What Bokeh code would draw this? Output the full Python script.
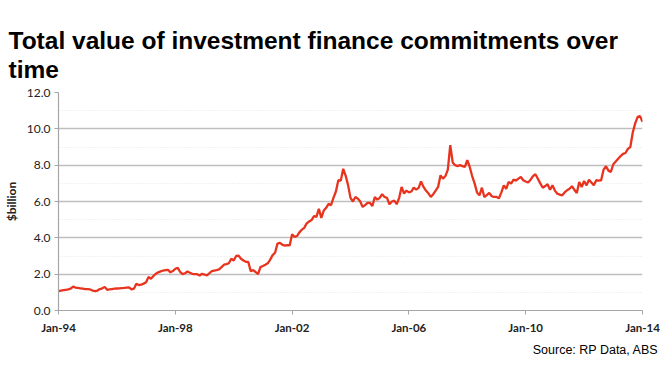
from bokeh.plotting import figure
from bokeh.models import Range1d, FixedTicker, Title, PrintfTickFormatter
from bokeh.embed import file_html
from bokeh.resources import INLINE

title_line1 = "Total value of investment finance commitments over"
title_line2 = "time"
source_text = "Source: RP Data, ABS"
y_label = "$billion"

tick_months = [0, 48, 96, 144, 192, 240]
tick_labels = ["Jan-94", "Jan-98", "Jan-02", "Jan-06", "Jan-10", "Jan-14"]
y_ticks = [0, 2, 4, 6, 8, 10, 12]
y_minor = [1, 3, 5, 7, 9, 11]

# monthly values ($billion), Jan-94 .. Jan-14
v1994 = [1.07, 1.10, 1.12, 1.14, 1.16, 1.20, 1.32, 1.26, 1.24, 1.22, 1.20, 1.18]
v1995 = [1.18, 1.16, 1.10, 1.07, 1.10, 1.18, 1.22, 1.30, 1.14, 1.16, 1.18, 1.20]
v1996 = [1.21, 1.22, 1.23, 1.24, 1.26, 1.27, 1.16, 1.20, 1.47, 1.40, 1.42, 1.48]
v1997 = [1.55, 1.84, 1.75, 1.90, 2.02, 2.10, 2.15, 2.20, 2.22, 2.24, 2.10, 2.17]
v1998 = [2.30, 2.35, 2.12, 2.00, 2.05, 2.15, 2.08, 2.02, 2.00, 2.00, 1.93, 2.02]
v1999 = [1.98, 1.93, 2.05, 2.17, 2.20, 2.22, 2.26, 2.39, 2.52, 2.55, 2.60, 2.85]
v2000 = [2.75, 3.00, 3.02, 2.85, 2.75, 2.68, 2.67, 2.17, 2.22, 2.12, 2.00, 2.39]
v2001 = [2.45, 2.52, 2.60, 2.80, 3.05, 3.18, 3.68, 3.72, 3.62, 3.57, 3.60, 3.58]
v2002 = [4.20, 4.05, 4.10, 4.30, 4.45, 4.55, 4.80, 4.90, 4.98, 5.20, 5.15, 5.60]
v2003 = [5.10, 5.50, 5.65, 5.87, 5.80, 6.20, 6.55, 7.17, 7.15, 7.80, 7.43, 6.90]
v2004 = [6.20, 6.00, 6.25, 6.16, 6.00, 5.70, 5.80, 5.92, 5.92, 5.75, 6.25, 6.10]
v2005 = [6.20, 6.40, 6.25, 6.20, 5.85, 6.00, 6.05, 5.85, 6.20, 6.80, 6.44, 6.60]
v2006 = [6.50, 6.55, 6.76, 6.65, 6.75, 7.11, 6.80, 6.60, 6.45, 6.25, 6.40, 6.60]
v2007 = [6.80, 7.44, 7.26, 7.40, 7.75, 9.10, 8.15, 8.00, 7.95, 8.00, 7.95, 7.90]
v2008 = [8.27, 7.90, 7.40, 7.00, 6.50, 6.34, 6.76, 6.25, 6.35, 6.47, 6.30, 6.25]
v2009 = [6.25, 6.18, 6.50, 6.89, 6.70, 7.08, 6.98, 7.20, 7.15, 7.26, 7.35, 7.17]
v2010 = [7.10, 7.05, 7.20, 7.40, 7.50, 7.25, 7.00, 6.76, 6.85, 6.95, 6.65, 6.89]
v2011 = [6.60, 6.43, 6.38, 6.34, 6.50, 6.62, 6.70, 6.84, 6.65, 6.47, 7.08, 6.80]
v2012 = [7.13, 6.89, 7.20, 7.05, 6.89, 7.17, 7.15, 7.17, 7.75, 7.94, 7.70, 7.63]
v2013 = [8.05, 8.20, 8.35, 8.50, 8.62, 8.67, 8.90, 9.00, 9.80, 10.30, 10.66, 10.70]
v2014 = [10.38]

values = (v1994 + v1995 + v1996 + v1997 + v1998 + v1999 + v2000 + v2001 + v2002
          + v2003 + v2004 + v2005 + v2006 + v2007 + v2008 + v2009 + v2010 + v2011
          + v2012 + v2013 + v2014)
months = list(range(len(values)))

p = figure(width=662, height=373, output_backend="svg", toolbar_location=None,
           title=None,
           x_range=Range1d(0, 240), y_range=Range1d(0, 12),
           min_border_left=53, min_border_right=20, min_border_top=92,
           min_border_bottom=63)

# small blank spacer between the title and the plot frame
p.add_layout(Title(text=" ", text_font="Liberation Sans", text_font_size="7px",
                   standoff=0), "above")
p.add_layout(Title(text=title_line1 + "\n" + title_line2, text_font="Liberation Sans",
                   text_font_size="24.5px", text_font_style="bold",
                   text_line_height=1.1,
                   text_color="#000000", standoff=0, offset=-50), "above")

p.line(months, values, line_color="#e8341f", line_width=2.3)

p.outline_line_color = None
p.background_fill_color = "white"
p.border_fill_color = "white"

p.xgrid.visible = False
p.ygrid.grid_line_color = "#bfbfbf"
p.ygrid.grid_line_width = 1.6
p.ygrid.minor_grid_line_color = "#e4e4e4"
p.ygrid.minor_grid_line_dash = "1 2"

p.yaxis.ticker = FixedTicker(ticks=y_ticks, minor_ticks=y_minor)
p.yaxis.formatter = PrintfTickFormatter(format="%.1f")
p.yaxis.axis_label = y_label
p.yaxis.axis_label_text_font = "Lato"
p.yaxis.axis_label_text_font_size = "12px"
p.yaxis.axis_label_text_font_style = "bold"
p.yaxis.axis_label_text_color = "#222222"
p.yaxis.axis_label_standoff = 5
p.yaxis.major_label_text_font = "Lato"
p.yaxis.major_label_text_font_size = "12px"
p.yaxis.major_label_text_color = "#222222"
p.yaxis.major_label_standoff = 4

p.xaxis.ticker = FixedTicker(ticks=tick_months)
p.xaxis.major_label_overrides = {m: lab for m, lab in zip(tick_months, tick_labels)}
p.xaxis.major_label_text_font = "Lato"
p.xaxis.major_label_text_font_size = "11.5px"
p.xaxis.major_label_text_font_style = "bold"
p.xaxis.major_label_text_color = "#222222"
p.xaxis.major_label_standoff = 6

for ax in (p.xaxis, p.yaxis):
    ax.axis_line_color = "#a6a6a6"
    ax.axis_line_width = 1.2
    ax.major_tick_line_color = "#a6a6a6"
    ax.major_tick_in = 0
    ax.major_tick_out = 4
    ax.minor_tick_line_color = None

p.add_layout(Title(text=source_text, align="right", text_font="Liberation Sans",
                   text_font_size="12.5px", text_font_style="normal",
                   text_color="#000000", standoff=8, offset=-16), "below")

open("out.html", "w").write(file_html(p, INLINE))
